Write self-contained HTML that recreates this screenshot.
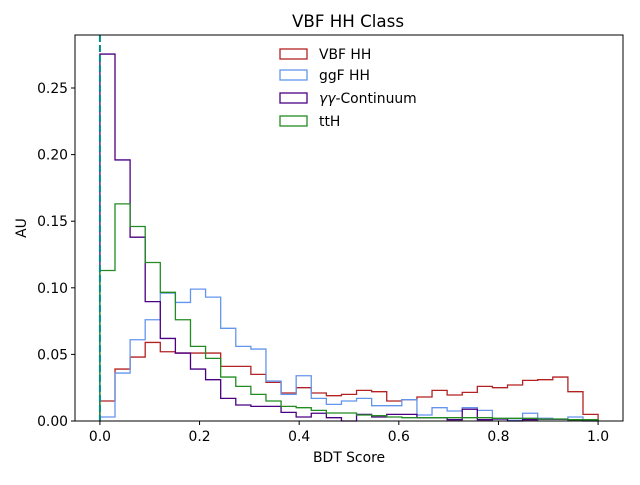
<!DOCTYPE html>
<html><head><meta charset="utf-8"><style>
body{margin:0;background:#fff}
svg text{font-family:"DejaVu Sans","Liberation Sans",sans-serif;fill:#000}
</style></head><body>
<svg id="chart" width="640" height="480" viewBox="0 0 640 480">
<rect width="640" height="480" fill="#fff"/>
<text x="348" y="27" font-size="16.7" text-anchor="middle">VBF HH Class</text>
<g id="marks"></g>
<g id="axes"></g>
<g id="legend"></g>
</svg>
<script>
const binCount = 33;
const vbfHH = [0.015,0.039,0.048,0.059,0.052,0.051,0.051,0.051,0.041,0.041,0.035,0.029,0.021,0.025,0.021,0.019,0.020,0.023,0.022,0.015,0.016,0.018,0.023,0.0195,0.0215,0.026,0.025,0.027,0.0305,0.031,0.033,0.022,0.005];
const ggfHH = [0.003,0.036,0.061,0.076,0.096,0.089,0.099,0.093,0.0696,0.056,0.054,0.030,0.020,0.034,0.017,0.0125,0.015,0.017,0.0115,0.0115,0.016,0.0045,0.010,0.0075,0.010,0.008,0.0015,0.0005,0.0058,0.002,0.0013,0.003,0.0005];
const continuum = [0.2755,0.196,0.138,0.0896,0.062,0.051,0.039,0.031,0.017,0.012,0.011,0.011,0.0065,0.003,0.0058,0.0025,0.0,0.005,0.003,0.005,0.005,0.0025,0.0025,0.001,0.0088,0.001,0.0015,0.0,0.001,0.0013,0.0013,0.001,0.0];
const ttH = [0.113,0.163,0.146,0.119,0.0966,0.076,0.056,0.047,0.033,0.026,0.020,0.015,0.011,0.010,0.008,0.006,0.006,0.0045,0.004,0.003,0.0025,0.0025,0.0025,0.0025,0.0025,0.0025,0.002,0.002,0.002,0.0015,0.0015,0.001,0.001];
const xTicks = [0,0.2,0.4,0.6,0.8,1.0];
const yTicks = [0,0.05,0.10,0.15,0.20,0.25];
const seriesNames = ["VBF HH","ggF HH","γγ-Continuum","ttH"];

const X0=75,X1=623,Y0=421,Y1=35;
const xmin=-0.05,xmax=1.05,ymin=0,ymax=0.2898;
const xs=v=>X0+(v-xmin)/(xmax-xmin)*(X1-X0);
const ys=v=>Y0-(v-ymin)/(ymax-ymin)*(Y0-Y1);
const NS="http://www.w3.org/2000/svg";
function mk(tag,attrs,parent){const e=document.createElementNS(NS,tag);for(const k in attrs)e.setAttribute(k,attrs[k]);parent.appendChild(e);return e;}
const marks=document.getElementById('marks'),axes=document.getElementById('axes'),legend=document.getElementById('legend');
const series=[[vbfHH,'#b22222','vbf-hh-histogram'],[ggfHH,'#6495ed','ggf-hh-histogram'],[continuum,'#4b0082','continuum-histogram'],[ttH,'#228b22','tth-histogram']];
series.forEach(s=>{
  const vals=s[0];let d='M'+xs(0)+','+ys(0);
  for(let i=0;i<binCount;i++){const a=i/binCount,b=(i+1)/binCount;d+=' L'+xs(a)+','+ys(vals[i])+' L'+xs(b)+','+ys(vals[i]);}
  d+=' L'+xs(1)+','+ys(0);
  const p=mk('path',{d:d,fill:'none',stroke:s[1],'stroke-width':1.3},marks);
  
  
});
const dl=mk('line',{x1:xs(0),x2:xs(0),y1:Y1,y2:Y0,stroke:'#008b8b','stroke-width':2,'stroke-dasharray':'7,3'},marks);


const fr=mk('rect',{x:X0,y:Y1,width:X1-X0,height:Y0-Y1,fill:'none',stroke:'#000','stroke-width':1},axes);


xTicks.forEach(t=>{
  mk('line',{x1:xs(t),x2:xs(t),y1:Y0,y2:Y0+4,stroke:'#000'},axes);
  const tx=mk('text',{x:xs(t),y:Y0+20,'font-size':13.9,'text-anchor':'middle'},axes);tx.textContent=t.toFixed(1);
  
  
});
yTicks.forEach(t=>{
  mk('line',{x1:X0-4,x2:X0,y1:ys(t),y2:ys(t),stroke:'#000'},axes);
  const tx=mk('text',{x:X0-7,y:ys(t)+5,'font-size':13.9,'text-anchor':'end'},axes);tx.textContent=t.toFixed(2);
  
  
});
const xl=mk('text',{x:(X0+X1)/2,y:462,'font-size':13.9,'text-anchor':'middle'},axes);xl.textContent='BDT Score';


const yl=mk('text',{x:26,y:228,'font-size':13.9,'text-anchor':'middle',transform:'rotate(-90 26 228)'},axes);yl.textContent='AU';


const ly=[54,75,98,121];
series.forEach((s,i)=>{
  const g=mk('g',{},legend);
  
  
  mk('rect',{x:280,y:ly[i]-5,width:27,height:10,fill:'none',stroke:s[1],'stroke-width':1.3},g);
  const t=mk('text',{x:319,y:ly[i]+5,'font-size':13.9},g);
  if(i===2){const a=mk('tspan',{'font-style':'italic'},t);a.textContent='γγ';const b=mk('tspan',{},t);b.textContent='-Continuum';}
  else t.textContent=seriesNames[i];
});
</script>
</body></html>
